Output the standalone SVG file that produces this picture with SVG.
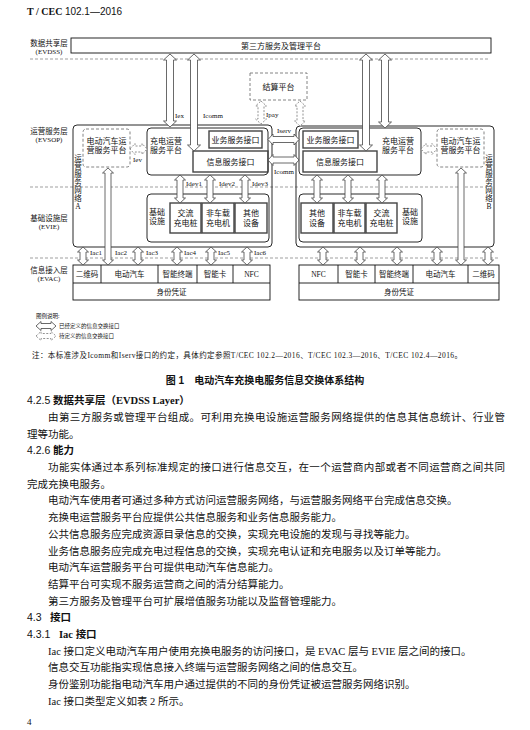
<svg xmlns="http://www.w3.org/2000/svg" width="530" height="730" viewBox="0 0 530 730">
<style>
.bg{fill:#fff}
.box{fill:none;stroke:#111;stroke-width:0.9}
.gbox{fill:none;stroke:#444;stroke-width:1.4}
.dbox{fill:none;stroke:#666;stroke-width:0.8;stroke-dasharray:3,2}
.arr{fill:#fff;stroke:#444;stroke-width:0.8}
.arrd{fill:#fff;stroke:#777;stroke-width:0.8;stroke-dasharray:2,1.5}
.layer{stroke:#777;stroke-width:0.7;stroke-dasharray:3,2;fill:none}
text{font-family:"Liberation Serif","Noto Sans CJK SC",serif;fill:#111}
.f8{font-size:8px}
.f75{font-size:7.5px}
.f7{font-size:7px}
.f55{font-size:5.5px}
.c{text-anchor:middle}
.body{font-size:10.5px}
.h{font-family:"Liberation Sans","Noto Sans CJK SC",sans-serif;font-size:10.5px}
</style>
<rect class="bg" x="0" y="0" width="530" height="730"/>
<text x="27" y="15" style="font-size:10px"><tspan style="font-weight:bold">T / CEC </tspan><tspan style="font-family:'Liberation Sans',sans-serif">102.1—2016</tspan></text>

<!-- layer labels -->
<g id="layer-labels" class="f75">
<text class="c" x="49" y="46">数据共享层</text>
<text class="c f7" x="49" y="54">(EVDSS)</text>
<text class="c" x="49" y="134">运营服务层</text>
<text class="c f7" x="49" y="142">(EVSOP)</text>
<text class="c" x="49" y="221">基础设施层</text>
<text class="c f7" x="49" y="229">(EVIE)</text>
<text class="c" x="49" y="273">信息接入层</text>
<text class="c f7" x="49" y="281">(EVAC)</text>
</g>
<g id="layer-lines">
<line class="layer" x1="30" y1="59" x2="488" y2="59"/>
<line class="layer" x1="30" y1="187" x2="487" y2="187"/>
<line class="layer" x1="30" y1="258" x2="498" y2="258"/>
</g>

<g id="third-party">
<rect class="box" x="71" y="38" width="420" height="15"/>
<text class="c f8" x="281" y="48.5">第三方服务及管理平台</text>
</g>
<g id="settlement">
<rect class="dbox" x="250" y="73" width="57" height="27"/>
<text class="c f8" x="278.5" y="90">结算平台</text>
</g>

<g id="network-a">
<rect class="box" x="73" y="125" width="199" height="122" rx="4"/>
<text class="c f75"><tspan x="78" y="161">运</tspan><tspan x="78" y="169">营</tspan><tspan x="78" y="177">服</tspan><tspan x="78" y="185">务</tspan><tspan x="78" y="193">网</tspan><tspan x="78" y="201">络</tspan><tspan x="78" y="209">A</tspan></text>
</g>
<g id="network-b">
<rect class="box" x="296" y="126" width="198" height="121" rx="4"/>
<text class="c f75"><tspan x="489" y="161">运</tspan><tspan x="489" y="169">营</tspan><tspan x="489" y="177">服</tspan><tspan x="489" y="185">务</tspan><tspan x="489" y="193">网</tspan><tspan x="489" y="201">络</tspan><tspan x="489" y="209">B</tspan></text>
</g>

<g id="ev-platform-a">
<rect class="dbox" x="83" y="129" width="47" height="38" rx="3"/>
<text class="c f8" x="106.5" y="144">电动汽车运</text>
<text class="c f8" x="106.5" y="153">营服务平台</text>
</g>
<g id="charge-platform-a">
<rect class="box" x="147" y="128" width="121" height="47" rx="4"/>
<text class="f8" x="150" y="144">充电运营</text>
<text class="f8" x="150" y="153">服务平台</text>
</g>
<g id="biz-if-a">
<rect class="gbox" x="209" y="131" width="53" height="17"/>
<text class="c f8" x="235.5" y="142.5">业务服务接口</text>
</g>
<g id="info-if-a">
<rect class="gbox" x="193" y="151" width="75" height="21"/>
<text class="c f8" x="230.5" y="164.5">信息服务接口</text>
</g>

<g id="ev-platform-b">
<rect class="dbox" x="437" y="129" width="47" height="38" rx="3"/>
<text class="c f8" x="460.5" y="144">电动汽车运</text>
<text class="c f8" x="460.5" y="153">营服务平台</text>
</g>
<g id="charge-platform-b">
<rect class="box" x="299" y="128" width="122" height="47" rx="4"/>
<text class="c f8" x="398" y="144">充电运营</text>
<text class="c f8" x="398" y="153">服务平台</text>
</g>
<g id="biz-if-b">
<rect class="gbox" x="303" y="131" width="55" height="17"/>
<text class="c f8" x="330.5" y="142.5">业务服务接口</text>
</g>
<g id="info-if-b">
<rect class="gbox" x="303" y="151" width="74" height="21"/>
<text class="c f8" x="340" y="164.5">信息服务接口</text>
</g>

<g id="infra-a">
<rect class="box" x="147" y="194" width="122" height="48" rx="4"/>
<text class="c f8" x="157" y="215">基础</text>
<text class="c f8" x="157" y="224">设施</text>
<rect class="gbox" x="170" y="203" width="31" height="30"/>
<text class="c f8" x="185.5" y="216">交流</text>
<text class="c f8" x="185.5" y="226">充电桩</text>
<rect class="gbox" x="202" y="203" width="32" height="30"/>
<text class="c f8" x="218" y="216">非车载</text>
<text class="c f8" x="218" y="226">充电机</text>
<rect class="gbox" x="235" y="203" width="32" height="30"/>
<text class="c f8" x="251" y="216">其他</text>
<text class="c f8" x="251" y="226">设备</text>
</g>
<g id="infra-b">
<rect class="box" x="299" y="194" width="123" height="48" rx="4"/>
<rect class="gbox" x="301" y="203" width="32" height="30"/>
<text class="c f8" x="317" y="216">其他</text>
<text class="c f8" x="317" y="226">设备</text>
<rect class="gbox" x="334" y="203" width="31" height="30"/>
<text class="c f8" x="349.5" y="216">非车载</text>
<text class="c f8" x="349.5" y="226">充电机</text>
<rect class="gbox" x="366" y="203" width="31" height="30"/>
<text class="c f8" x="381.5" y="216">交流</text>
<text class="c f8" x="381.5" y="226">充电桩</text>
<text class="c f8" x="410" y="215">基础</text>
<text class="c f8" x="410" y="224">设施</text>
</g>

<g id="evac-a">
<rect class="box" x="73" y="265" width="197" height="35"/>
<path class="box" d="M73,283H270M101,265V283M158,265V283M197,265V283M233,265V283"/>
<text class="c f75" x="87" y="277">二维码</text>
<text class="c f75" x="129.5" y="277">电动汽车</text>
<text class="c f75" x="177.5" y="277">智能终端</text>
<text class="c f75" x="215" y="277">智能卡</text>
<text class="c f75" x="251.5" y="277">NFC</text>
<text class="c f75" x="171.5" y="295">身份凭证</text>
</g>
<g id="evac-b">
<rect class="box" x="299" y="265" width="200" height="35"/>
<path class="box" d="M299,283H499M338,265V283M375,265V283M413,265V283M468,265V283"/>
<text class="c f75" x="318.5" y="277">NFC</text>
<text class="c f75" x="356.5" y="277">智能卡</text>
<text class="c f75" x="394" y="277">智能终端</text>
<text class="c f75" x="440.5" y="277">电动汽车</text>
<text class="c f75" x="483.5" y="277">二维码</text>
<text class="c f75" x="399" y="295">身份凭证</text>
</g>

<g id="connectors">
<path class="arr" d="M170,54 L176.5,60 L173.5,60 L173.5,121 L176.5,121 L170,127 L163.5,121 L166.5,121 L166.5,60 L163.5,60 Z"/>
<path class="arr" d="M194,54 L200.5,60 L197.5,60 L197.5,145 L200.5,145 L194,151 L187.5,145 L190.5,145 L190.5,60 L187.5,60 Z"/>
<path class="arr" d="M366,54 L372.5,60 L369.5,60 L369.5,145 L372.5,145 L366,151 L359.5,145 L362.5,145 L362.5,60 L359.5,60 Z"/>
<path class="arr" d="M385,54 L391.5,60 L388.5,60 L388.5,122 L391.5,122 L385,128 L378.5,122 L381.5,122 L381.5,60 L378.5,60 Z"/>
<path class="arrd" d="M261,101 L266.5,106 L264,106 L264,119 L266.5,119 L261,124 L255.5,119 L258,119 L258,106 L255.5,106 Z"/>
<path class="arrd" d="M300,101 L305.5,106 L303,106 L303,121 L305.5,121 L300,126 L294.5,121 L297,121 L297,106 L294.5,106 Z"/>
<path class="arrd" d="M130,149 L135,143.5 L135,146 L142,146 L142,143.5 L147,149 L142,154.5 L142,152 L135,152 L135,154.5 Z"/>
<path class="arrd" d="M421,149 L426,143.5 L426,146 L432,146 L432,143.5 L437,149 L432,154.5 L432,152 L426,152 L426,154.5 Z"/>
<path class="arr" d="M268,139.5 L273,134 L273,136.5 L294,136.5 L294,134 L299,139.5 L294,145 L294,142.5 L273,142.5 L273,145 Z"/>
<path class="arr" d="M268,160 L273,154.5 L273,157 L294,157 L294,154.5 L299,160 L294,165.5 L294,163 L273,163 L273,165.5 Z"/>
<path class="arr" d="M180,175 L185.5,180 L183,180 L183,198 L185.5,198 L180,203 L174.5,198 L177,198 L177,180 L174.5,180 Z"/>
<path class="arr" d="M210,175 L215.5,180 L213,180 L213,198 L215.5,198 L210,203 L204.5,198 L207,198 L207,180 L204.5,180 Z"/>
<path class="arr" d="M245,175 L250.5,180 L248,180 L248,198 L250.5,198 L245,203 L239.5,198 L242,198 L242,180 L239.5,180 Z"/>
<path class="arr" d="M317,175 L322.5,180 L320,180 L320,198 L322.5,198 L317,203 L311.5,198 L314,198 L314,180 L311.5,180 Z"/>
<path class="arr" d="M348,175 L353.5,180 L351,180 L351,198 L353.5,198 L348,203 L342.5,198 L345,198 L345,180 L342.5,180 Z"/>
<path class="arr" d="M382,175 L387.5,180 L385,180 L385,198 L387.5,198 L382,203 L376.5,198 L379,198 L379,180 L376.5,180 Z"/>
<path class="arr" d="M108,168 L113.5,173 L111,173 L111,260 L113.5,260 L108,265 L102.5,260 L105,260 L105,173 L102.5,173 Z"/>
<path class="arr" d="M461,168 L466.5,173 L464,173 L464,260 L466.5,260 L461,265 L455.5,260 L458,260 L458,173 L455.5,173 Z"/>
<path class="arr" d="M83,247 L88.5,252 L86,252 L86,260 L88.5,260 L83,265 L77.5,260 L80,260 L80,252 L77.5,252 Z"/>
<path class="arr" d="M138,247 L143.5,252 L141,252 L141,260 L143.5,260 L138,265 L132.5,260 L135,260 L135,252 L132.5,252 Z"/>
<path class="arr" d="M177,247 L182.5,252 L180,252 L180,260 L182.5,260 L177,265 L171.5,260 L174,260 L174,252 L171.5,252 Z"/>
<path class="arr" d="M211,247 L216.5,252 L214,252 L214,260 L216.5,260 L211,265 L205.5,260 L208,260 L208,252 L205.5,252 Z"/>
<path class="arr" d="M247,247 L252.5,252 L250,252 L250,260 L252.5,260 L247,265 L241.5,260 L244,260 L244,252 L241.5,252 Z"/>
<path class="arr" d="M323,247 L328.5,252 L326,252 L326,260 L328.5,260 L323,265 L317.5,260 L320,260 L320,252 L317.5,252 Z"/>
<path class="arr" d="M360,247 L365.5,252 L363,252 L363,260 L365.5,260 L360,265 L354.5,260 L357,260 L357,252 L354.5,252 Z"/>
<path class="arr" d="M397,247 L402.5,252 L400,252 L400,260 L402.5,260 L397,265 L391.5,260 L394,260 L394,252 L391.5,252 Z"/>
<path class="arr" d="M437,247 L442.5,252 L440,252 L440,260 L442.5,260 L437,265 L431.5,260 L434,260 L434,252 L431.5,252 Z"/>
<path class="arr" d="M488,247 L493.5,252 L491,252 L491,260 L493.5,260 L488,265 L482.5,260 L485,260 L485,252 L482.5,252 Z"/>
</g>
<g id="connector-labels" class="f7">
<text x="175" y="118">Iex</text>
<text x="203" y="118">Icomm</text>
<text x="266" y="117">Ipay</text>
<text x="133" y="162">Iev</text>
<text x="277" y="133">Iserv</text>
<text x="274" y="174">Icomm</text>
<text x="186" y="186">Idev1</text>
<text x="219" y="186">Idev2</text>
<text x="252" y="186">Idev3</text>
<text x="90" y="255">Iac1</text>
<text x="115" y="255">Iac2</text>
<text x="146" y="255">Iac3</text>
<text x="184" y="255">Iac4</text>
<text x="218" y="255">Iac5</text>
<text x="254" y="255">Iac6</text>
</g>

<g id="legend">
<text class="f55" x="36" y="318">图例说明:</text>
<path class="arr" d="M36,326 L41,321.5 L41,323.5 L51,323.5 L51,321.5 L56,326 L51,330.5 L51,328.5 L41,328.5 L41,330.5 Z"/>
<path class="arrd" d="M36,336 L41,331.5 L41,333.5 L51,333.5 L51,331.5 L56,336 L51,340.5 L51,338.5 L41,338.5 L41,340.5 Z"/>
<text class="f55" x="59" y="328">已经定义的信息交换接口</text>
<text class="f55" x="59" y="338">待定义的信息交换接口</text>
</g>
<text class="f75" x="32" y="358" textLength="430" lengthAdjust="spacing">注：本标准涉及Icomm和Iserv接口的约定，具体约定参照T/CEC 102.2—2016、T/CEC 102.3—2016、T/CEC 102.4—2016。</text>
<text x="265" y="384" text-anchor="middle" style="font-family:'Liberation Sans','Noto Sans CJK SC',sans-serif;font-size:10px;font-weight:bold">图 1　电动汽车充换电服务信息交换体系结构</text>

<g id="body">
<text class="h" x="27" y="404">4.2.5<tspan x="53" style="font-weight:bold">数据共享层（</tspan><tspan style="font-family:'Liberation Serif',serif;font-weight:bold">EVDSS Layer</tspan><tspan style="font-weight:bold">）</tspan></text>
<text class="body" x="48" y="421" textLength="457" lengthAdjust="spacing">由第三方服务或管理平台组成。可利用充换电设施运营服务网络提供的信息其信息统计、行业管</text>
<text class="body" x="27" y="438">理等功能。</text>
<text class="h" x="27" y="454">4.2.6<tspan x="53" style="font-weight:bold">能力</tspan></text>
<text class="body" x="48" y="471" textLength="457" lengthAdjust="spacing">功能实体通过本系列标准规定的接口进行信息交互，在一个运营商内部或者不同运营商之间共同</text>
<text class="body" x="27" y="488">完成充换电服务。</text>
<text class="body" x="48" y="504">电动汽车使用者可通过多种方式访问运营服务网络，与运营服务网络平台完成信息交换。</text>
<text class="body" x="48" y="521">充换电运营服务平台应提供公共信息服务和业务信息服务能力。</text>
<text class="body" x="48" y="538">公共信息服务应完成资源目录信息的交换，实现充电设施的发现与寻找等能力。</text>
<text class="body" x="48" y="555">业务信息服务应完成充电过程信息的交换，实现充电认证和充电服务以及订单等能力。</text>
<text class="body" x="48" y="571">电动汽车运营服务平台可提供电动汽车信息能力。</text>
<text class="body" x="48" y="588">结算平台可实现不服务运营商之间的清分结算能力。</text>
<text class="body" x="48" y="605">第三方服务及管理平台可扩展增值服务功能以及监督管理能力。</text>
<text class="h" x="27" y="621">4.3<tspan x="50" style="font-weight:bold">接口</tspan></text>
<text class="h" x="27" y="638">4.3.1<tspan x="59" style="font-family:'Liberation Serif',serif;font-weight:bold">Iac </tspan><tspan style="font-weight:bold">接口</tspan></text>
<text class="body" x="48" y="655">Iac 接口定义电动汽车用户使用充换电服务的访问接口，是 EVAC 层与 EVIE 层之间的接口。</text>
<text class="body" x="48" y="671">信息交互功能指实现信息接入终端与运营服务网络之间的信息交互。</text>
<text class="body" x="48" y="688">身份鉴别功能指电动汽车用户通过提供的不同的身份凭证被运营服务网络识别。</text>
<text class="body" x="48" y="705">Iac 接口类型定义如表 2 所示。</text>
<text class="body" x="27" y="725" style="font-size:9px">4</text>
</g>
</svg>
